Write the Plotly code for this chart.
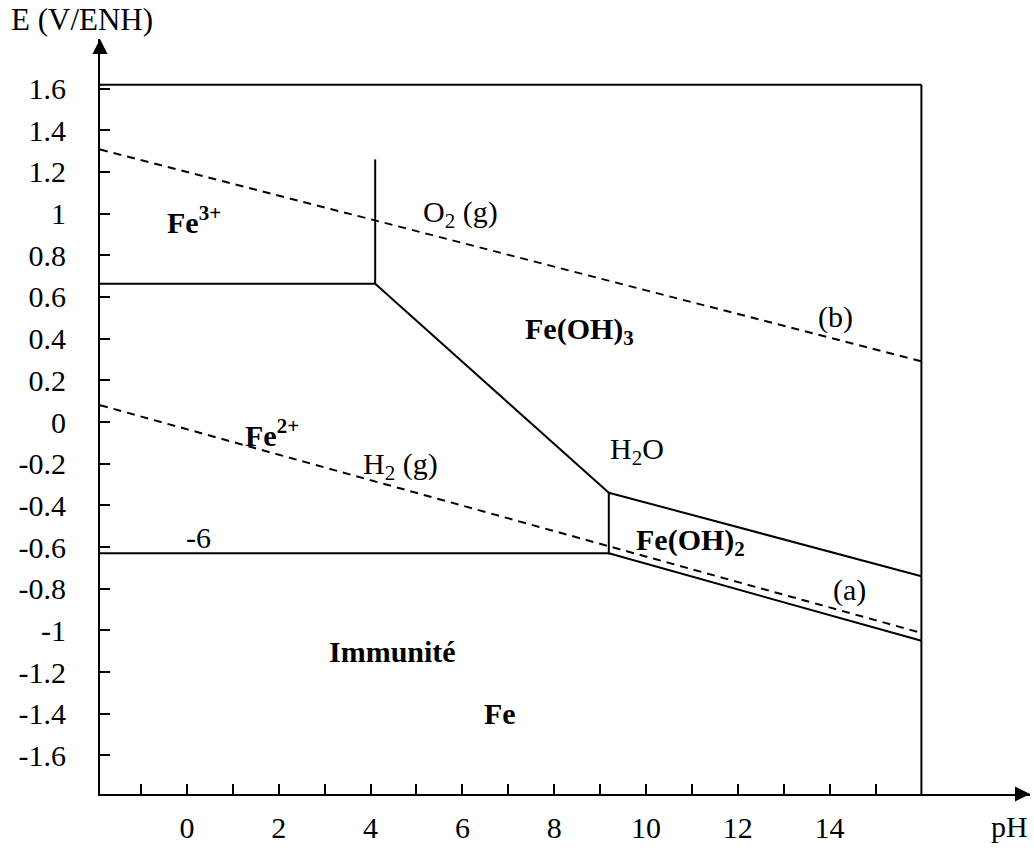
import plotly.graph_objects as go

# ---- data (pH, E in V/ENH) ----
x_min, x_max = -1.895, 18.366
y_min, y_max = -1.785, 1.838

frame_top_ph = [-1.895, 16.0]
frame_top_E = [1.618, 1.618]
frame_right_ph = [16.0, 16.0]
frame_right_E = [1.618, -1.785]

fe3_fe2_ph = [-1.895, 4.1]
fe3_fe2_E = [0.663, 0.663]
fe3_feoh3_ph = [4.1, 4.1]
fe3_feoh3_E = [0.663, 1.26]
fe2_feoh3_ph = [4.1, 9.19]
fe2_feoh3_E = [0.663, -0.339]
fe2_feoh2_ph = [9.19, 9.19]
fe2_feoh2_E = [-0.339, -0.635]
feoh3_feoh2_ph = [9.19, 16.0]
feoh3_feoh2_E = [-0.339, -0.74]
fe2_fe_ph = [-1.895, 9.19]
fe2_fe_E = [-0.630, -0.630]
feoh2_fe_ph = [9.19, 16.0]
feoh2_fe_E = [-0.630, -1.05]

o2_ph = [-1.895, 16.0]
o2_E = [1.308, 0.291]
h2_ph = [-1.895, 16.0]
h2_E = [0.081, -1.012]

x_tickvals = list(range(-1, 16))
x_ticktext = ["" if v % 2 else str(v) for v in x_tickvals]
y_tickvals = [1.6, 1.4, 1.2, 1.0, 0.8, 0.6, 0.4, 0.2, 0.0, -0.2, -0.4, -0.6,
              -0.8, -1.0, -1.2, -1.4, -1.6]
y_ticktext = ["1.6", "1.4", "1.2", "1", "0.8", "0.6", "0.4", "0.2", "0", "-0.2",
              "-0.4", "-0.6", "-0.8", "-1", "-1.2", "-1.4", "-1.6"]

labels = [
    ("<b>Fe<sup>3+</sup></b>", 0.15, 0.97),
    ("<b>Fe<sup>2+</sup></b>", 1.85, -0.055),
    ("O<sub>2</sub> (g)", 5.95, 0.998),
    ("<b>Fe(OH)<sub>3</sub></b>", 8.56, 0.439),
    ("(b)", 14.12, 0.506),
    ("H<sub>2</sub>O", 9.8, -0.138),
    ("H<sub>2</sub> (g)", 4.66, -0.21),
    ("<b>Fe(OH)<sub>2</sub></b>", 10.96, -0.578),
    ("(a)", 14.44, -0.807),
    ("-6", 0.24, -0.554),
    ("<b>Immunité</b>", 4.47, -1.103),
    ("<b>Fe</b>", 6.82, -1.399),
]

FONT = "Liberation Serif"
fig = go.Figure()

solid = [
    (frame_top_ph, frame_top_E), (frame_right_ph, frame_right_E),
    (fe3_fe2_ph, fe3_fe2_E), (fe3_feoh3_ph, fe3_feoh3_E),
    (fe2_feoh3_ph, fe2_feoh3_E), (fe2_feoh2_ph, fe2_feoh2_E),
    (feoh3_feoh2_ph, feoh3_feoh2_E), (fe2_fe_ph, fe2_fe_E),
    (feoh2_fe_ph, feoh2_fe_E),
]
for xs, ys in solid:
    fig.add_trace(go.Scatter(x=xs, y=ys, mode="lines",
                             line=dict(color="black", width=2),
                             hoverinfo="skip", showlegend=False))
for xs, ys in [(o2_ph, o2_E), (h2_ph, h2_E)]:
    fig.add_trace(go.Scatter(x=xs, y=ys, mode="lines",
                             line=dict(color="black", width=2, dash="8px,6px"),
                             hoverinfo="skip", showlegend=False))

for txt, px, py in labels:
    fig.add_annotation(x=px, y=py, text=txt, showarrow=False,
                       font=dict(family=FONT, size=30, color="black"))

fig.add_annotation(xref="paper", yref="paper", x=0, y=1, xshift=-18, yshift=0,
                   xanchor="center", yanchor="bottom", text="E (V/ENH)",
                   showarrow=False, font=dict(family=FONT, size=31, color="black"))
fig.add_annotation(x=17.93, y=y_min, yshift=-32, yanchor="middle", text="pH",
                   showarrow=False, font=dict(family=FONT, size=30, color="black"))

# arrowheads
fig.add_shape(type="path", xref="paper", yref="paper", xsizemode="pixel",
              ysizemode="pixel", xanchor=1, yanchor=0,
              path="M0,0 L-15,7.5 L-15,-7.5 Z", fillcolor="black",
              line=dict(color="black", width=0))
fig.add_shape(type="path", xref="paper", yref="paper", xsizemode="pixel",
              ysizemode="pixel", xanchor=0, yanchor=1,
              path="M0,0 L-7.5,-15 L7.5,-15 Z", fillcolor="black",
              line=dict(color="black", width=0))

axis_common = dict(showgrid=False, zeroline=False, showline=True, linecolor="black",
                   linewidth=2, ticks="inside", ticklen=10, tickwidth=2,
                   tickcolor="black", tickfont=dict(family=FONT, size=30, color="black"),
                   fixedrange=True)
fig.update_xaxes(range=[x_min, x_max], tickmode="array", tickvals=x_tickvals,
                 ticktext=x_ticktext, ticklabelstandoff=6, **axis_common)
fig.update_yaxes(range=[y_min, y_max], tickmode="array", tickvals=y_tickvals,
                 ticktext=y_ticktext, ticklabelstandoff=26, **axis_common)

fig.update_layout(width=1034, height=848, margin=dict(l=100, r=4, t=39, b=50),
                  plot_bgcolor="white", paper_bgcolor="white",
                  font=dict(family=FONT, color="black"))

fig.write_html("out.html")
